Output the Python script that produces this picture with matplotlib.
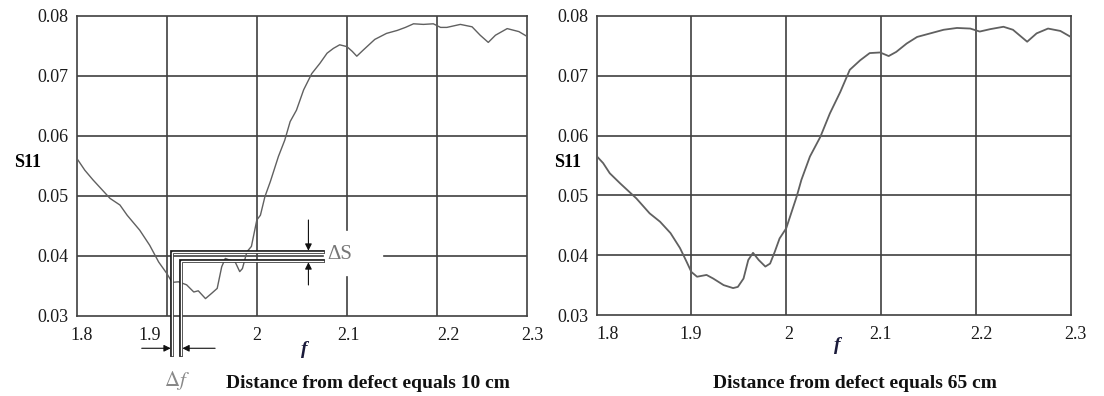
import matplotlib
matplotlib.use("Agg")
import matplotlib.pyplot as plt
from matplotlib.transforms import ScaledTranslation

plt.rcParams['font.family'] = ['Liberation Serif', 'DejaVu Serif']
plt.rcParams['mathtext.fontset'] = 'stix'

# ---------------- data ----------------
x_ticks = [1.8, 1.9, 2.0, 2.1, 2.2, 2.3]
x_tick_labels = ['1.8', '1.9', '2', '2.1', '2.2', '2.3']
y_ticks = [0.03, 0.04, 0.05, 0.06, 0.07, 0.08]
y_tick_labels = ['0.03', '0.04', '0.05', '0.06', '0.07', '0.08']

left_f = [1.800, 1.809, 1.818, 1.837, 1.848, 1.856, 1.870, 1.881, 1.891, 1.900,
          1.906, 1.913, 1.922, 1.930, 1.935, 1.943, 1.950, 1.956, 1.961, 1.965,
          1.970, 1.976, 1.981, 1.984, 1.989, 1.994, 2.000, 2.004, 2.009, 2.015,
          2.024, 2.031, 2.037, 2.044, 2.052, 2.061, 2.070, 2.078, 2.085, 2.092,
          2.100, 2.106, 2.111, 2.118, 2.131, 2.144, 2.156, 2.165, 2.174, 2.185,
          2.196, 2.204, 2.211, 2.226, 2.239, 2.248, 2.257, 2.265, 2.278, 2.291,
          2.300]
left_s = [0.0563, 0.0543, 0.0527, 0.0496, 0.0485, 0.0468, 0.0443, 0.0418, 0.0390, 0.0371,
          0.0356, 0.0357, 0.0352, 0.0340, 0.0342, 0.0329, 0.0338, 0.0346, 0.0382, 0.0396,
          0.0393, 0.0390, 0.0374, 0.0379, 0.0407, 0.0416, 0.0460, 0.0468, 0.0499, 0.0524,
          0.0566, 0.0593, 0.0624, 0.0643, 0.0677, 0.0704, 0.0721, 0.0738, 0.0746, 0.0752,
          0.0749, 0.0741, 0.0733, 0.0743, 0.0761, 0.0771, 0.0776, 0.0781, 0.0787, 0.0786,
          0.0787, 0.0781, 0.0781, 0.0786, 0.0782, 0.0768, 0.0756, 0.0768, 0.0779, 0.0774,
          0.0766]

right_f = [1.800, 1.807, 1.814, 1.825, 1.842, 1.856, 1.867, 1.878, 1.888, 1.895,
           1.900, 1.906, 1.916, 1.923, 1.934, 1.944, 1.949, 1.955, 1.960, 1.965,
           1.971, 1.978, 1.983, 1.988, 1.993, 2.000,
           2.011, 2.016, 2.025, 2.036, 2.046, 2.057, 2.067, 2.078, 2.088, 2.099,
           2.108, 2.116, 2.127, 2.138, 2.152, 2.166, 2.180, 2.194, 2.204, 2.215,
           2.229, 2.239, 2.254, 2.264, 2.276, 2.289, 2.300]
right_s = [0.0566, 0.0554, 0.0537, 0.0520, 0.0495, 0.0470, 0.0456, 0.0437, 0.0412, 0.0389,
           0.0372, 0.0364, 0.0367, 0.0361, 0.0350, 0.0345, 0.0347, 0.0361, 0.0392, 0.0404,
           0.0392, 0.0381, 0.0386, 0.0406, 0.0428, 0.0445,
           0.0498, 0.0526, 0.0565, 0.0598, 0.0637, 0.0673, 0.0710, 0.0726, 0.0738, 0.0739,
           0.0733, 0.0740, 0.0754, 0.0765, 0.0771, 0.0777, 0.0780, 0.0779, 0.0774, 0.0778,
           0.0782, 0.0777, 0.0757, 0.0771, 0.0779, 0.0775, 0.0765]

# annotation values (left panel): two marked points
mark_f = [1.9059, 1.9157]
mark_s = [0.04067, 0.0392]
captions = ['Distance from defect equals 10 cm', 'Distance from defect equals 65 cm']

# ---------------- figure ----------------
W, H = 1104, 396
fig = plt.figure(figsize=(W / 100, H / 100), dpi=100)
fig.patch.set_facecolor('white')

GRID = '#404040'
CURVE = '#606060'

# small horizontal shifts (pixels) of the x tick labels as printed in the source
left_label_shift = [5, -17, 0, 2, 11, 5]
right_label_shift = [11, -1, 3, -1, 5, 5]


def setup(ax, shifts):
    ax.set_xlim(x_ticks[0], x_ticks[-1])
    ax.set_ylim(y_ticks[0], y_ticks[-1])
    ax.set_xticks(x_ticks)
    ax.set_xticklabels(x_tick_labels)
    ax.set_yticks(y_ticks)
    ax.set_yticklabels(y_tick_labels)
    ax.tick_params(length=0, labelsize=13, colors='#1a1a1a')
    ax.tick_params(axis='y', pad=6)
    ax.tick_params(axis='x', pad=8)
    for lab, dx in zip(ax.get_xticklabels(), shifts):
        lab.set_transform(lab.get_transform() +
                          ScaledTranslation(dx / 100, 0, fig.dpi_scale_trans))
    for sp in ax.spines.values():
        sp.set_color(GRID)
        sp.set_linewidth(1.2)


def px(x, y):
    return x / W, 1 - y / H


axL = fig.add_axes([76.7 / W, 80 / H, 450.3 / W, 300 / H])
axR = fig.add_axes([596.5 / W, 81 / H, 474.3 / W, 299 / H])
setup(axL, left_label_shift)
setup(axR, right_label_shift)

# grid lines (right panel full)
for xv in x_ticks[1:-1]:
    axR.axvline(xv, color=GRID, lw=1.2, zorder=1)
for yv in y_ticks[1:-1]:
    axR.axhline(yv, color=GRID, lw=1.2, zorder=1)

# grid lines (left panel, with gaps around the ΔS label)
for xv in x_ticks[1:-1]:
    if xv == 2.1:
        axL.axvline(xv, ymin=0, ymax=0.131, color=GRID, lw=1.2, zorder=1)
        axL.axvline(xv, ymin=0.287, ymax=1, color=GRID, lw=1.2, zorder=1)
    else:
        axL.axvline(xv, color=GRID, lw=1.2, zorder=1)
for yv in y_ticks[1:-1]:
    if yv == 0.04:
        axL.axhline(yv, xmin=0, xmax=0.547, color=GRID, lw=1.2, zorder=1)
        axL.axhline(yv, xmin=0.682, xmax=1, color=GRID, lw=1.2, zorder=1)
    else:
        axL.axhline(yv, color=GRID, lw=1.2, zorder=1)

# curves
axL.plot(left_f, left_s, color=CURVE, lw=1.0, zorder=3)
axR.plot(right_f, right_s, color=CURVE, lw=1.3, zorder=3)

# hollow L-shaped markers
f_end = 2.0733
s_low = 0.0235
for mf, ms in zip(mark_f, mark_s):
    xs = [mf, mf, f_end]
    ys = [s_low, ms, ms]
    axL.plot(xs, ys, color='#1a1a1a', lw=2.7, solid_joinstyle='miter',
             clip_on=False, zorder=4)
    axL.plot(xs, ys, color='white', lw=1.0, solid_joinstyle='miter',
             clip_on=False, zorder=5)

# Δf arrows
arr = dict(arrowstyle='-|>', color='#111111', lw=0.8, mutation_scale=10,
           shrinkA=0, shrinkB=0)
axL.annotate('', xy=(1.9044, 0.02462), xytext=(1.8722, 0.02462),
             arrowprops=arr, annotation_clip=False, zorder=6)
axL.annotate('', xy=(1.9173, 0.02462), xytext=(1.9537, 0.02462),
             arrowprops=arr, annotation_clip=False, zorder=6)
# ΔS arrows
axL.annotate('', xy=(2.0573, 0.04088), xytext=(2.0573, 0.0460),
             arrowprops=arr, annotation_clip=False, zorder=6)
axL.annotate('', xy=(2.0573, 0.03895), xytext=(2.0573, 0.03517),
             arrowprops=arr, annotation_clip=False, zorder=6)

axL.text(2.0781, 0.04033, 'ΔS', fontsize=15, color='#777777',
         ha='left', va='center', zorder=6)
axL.text(1.9115, 0.0193, r'$\Delta f$', fontsize=15, color='#888888',
         ha='center', va='center', clip_on=False)

# axis labels
fig.text(*px(28, 163), 'S11', fontsize=13, fontweight='bold', ha='center', va='center')
fig.text(*px(568, 163), 'S11', fontsize=13, fontweight='bold', ha='center', va='center')
fig.text(*px(304, 350), 'f', fontsize=14, fontstyle='italic', fontweight='bold',
         ha='center', va='center', color='#1a1a3a')
fig.text(*px(837, 345), 'f', fontsize=14, fontstyle='italic', fontweight='bold',
         ha='center', va='center', color='#1a1a3a')

# captions
fig.text(*px(368, 383), captions[0], fontsize=14, fontweight='bold',
         ha='center', va='center', color='#111111')
fig.text(*px(855, 383), captions[1], fontsize=14, fontweight='bold',
         ha='center', va='center', color='#111111')

fig.savefig('out.png', dpi=100, facecolor='white')
